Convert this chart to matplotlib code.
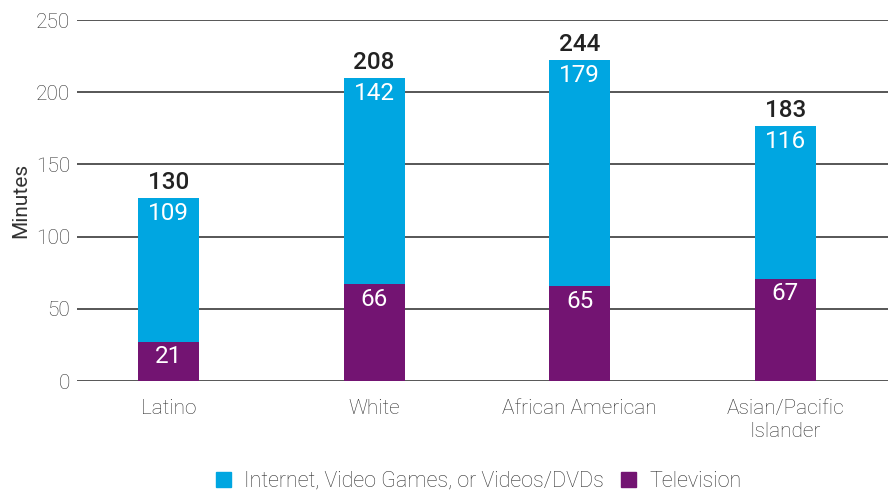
import matplotlib
matplotlib.use("Agg")
import matplotlib.pyplot as plt
from matplotlib.patches import Patch

categories = ["Latino", "White", "African American", "Asian/Pacific\nIslander"]
# bar heights as drawn in the picture
tv_heights = [27.2, 67.2, 65.8, 70.8]
internet_heights = [99.5, 142.6, 156.5, 105.8]
# printed labels
tv_labels = ["21", "66", "65", "67"]
internet_labels = ["109", "142", "179", "116"]
total_labels = ["130", "208", "244", "183"]
yticks = [0, 50, 100, 150, 200, 250]

blue = "#00A6E1"
purple = "#731472"
plt.rcParams['font.family'] = ['Roboto', 'DejaVu Sans']
plt.rcParams['font.weight'] = 'light'

fig = plt.figure(figsize=(8.88, 4.91), dpi=100)
ax = fig.add_axes([0.0867, 0.224, 0.9133, 0.735])
x = list(range(len(categories)))
w = 0.297
ax.bar(x, tv_heights, width=w, color=purple, zorder=3)
ax.bar(x, internet_heights, width=w, bottom=tv_heights, color=blue, zorder=3)

ax.set_ylim(0, 250)
ax.set_xlim(-0.445, 3.5)
ax.set_yticks(yticks)
ax.yaxis.grid(True, color="#3a3a3a", linewidth=1.2, zorder=0)
ax.set_axisbelow(True)
for s in ax.spines.values():
    s.set_visible(False)
ax.tick_params(axis="y", length=0, pad=5, labelsize=15, labelcolor="#333333")
ax.tick_params(axis="x", length=0, pad=13, labelsize=15, labelcolor="#333333")
ax.set_xticks(x)
ax.set_xticklabels(categories, linespacing=1.25)
ax.set_ylabel("Minutes", fontsize=15, color="#333333", labelpad=4)

for i in x:
    top_tv = tv_heights[i]
    top_all = tv_heights[i] + internet_heights[i]
    ax.annotate(tv_labels[i], (i, top_tv), xytext=(0, -15), textcoords="offset pixels",
                ha="center", va="center", color="white", fontsize=17.5, fontweight="normal", zorder=4)
    ax.annotate(internet_labels[i], (i, top_all), xytext=(0, -15), textcoords="offset pixels",
                ha="center", va="center", color="white", fontsize=17.5, fontweight="normal", zorder=4)
    ax.annotate(total_labels[i], (i, top_all), xytext=(0, 16), textcoords="offset pixels",
                ha="center", va="center", color="#222222", fontsize=17.5, fontweight="medium", zorder=4)

handles = [Patch(color=blue, label="Internet, Video Games, or Videos/DVDs"),
           Patch(color=purple, label="Television")]
fig.legend(handles=handles, loc="center", bbox_to_anchor=(0.539, 0.02), ncol=2, frameon=False,
           prop={"size": 15.5, "weight": "light"}, handlelength=0.7, handleheight=0.7,
           handletextpad=0.6, columnspacing=0.8, labelcolor="#333333")

fig.savefig("out.png", dpi=100)
